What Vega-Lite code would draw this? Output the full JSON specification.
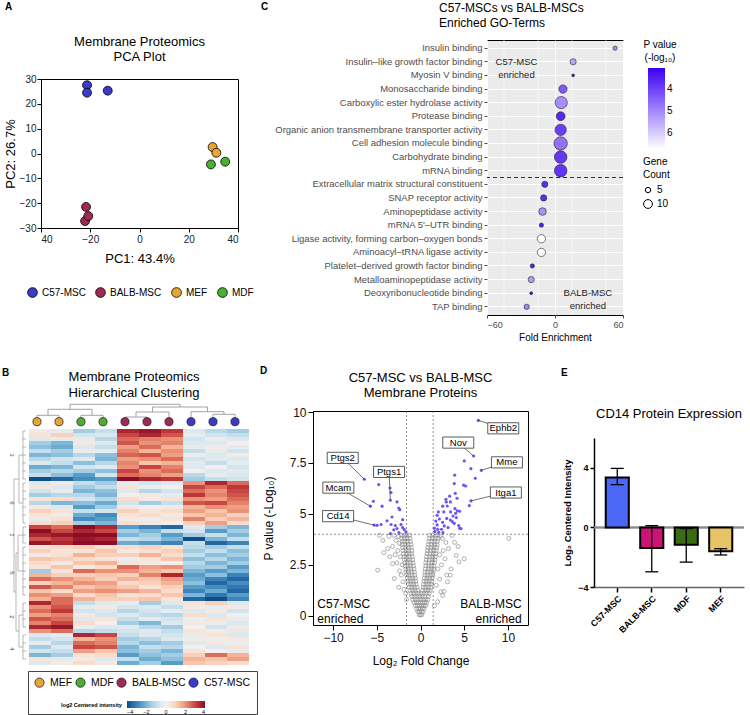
{
"$schema": "https://vega.github.io/schema/vega-lite/v6.json",
"padding": {"left": 2, "top": 0, "right": 0, "bottom": 0},
"background": "white",
"config": {
  "font": "Liberation Sans",
  "view": {"stroke": null},
  "axis": {"grid": false, "domainColor": "black", "tickColor": "black", "labelColor": "#222", "titleColor": "black", "titleFontWeight": "normal", "labelFont": "Liberation Sans", "titleFont": "Liberation Sans"},
  "title": {"font": "Liberation Sans", "fontWeight": "normal", "color": "black"},
  "legend": {"labelFont": "Liberation Sans", "titleFont": "Liberation Sans", "titleFontWeight": "normal", "titleColor": "black", "labelColor": "black"}
},
"spacing": 23,
"resolve": {"scale": {"x": "independent", "y": "independent", "color": "independent", "fill": "independent", "size": "independent"}},
"vconcat": [
{
  "spacing": 6,
  "resolve": {"scale": {"x": "independent", "y": "independent", "color": "independent", "size": "independent"}},
  "hconcat": [
  {
    "spacing": 0,
    "resolve": {"scale": {"x": "independent", "y": "independent", "color": "independent"}},
    "hconcat": [
      {"width": 1, "height": 1, "data": {"values": [{}]}, "mark": {"type": "point", "opacity": 0, "size": 1}, "encoding": {}},
      {
        "spacing": 0,
        "resolve": {"scale": {"x": "independent", "y": "independent", "color": "independent"}},
        "vconcat": [
          {"width": 1, "height": 35, "title": {"text": "A", "anchor": "start", "frame": "group", "fontSize": 10, "fontWeight": "bold", "offset": -12, "dx": -36}, "data": {"values": [{}]}, "mark": {"type": "point", "opacity": 0, "size": 1}, "encoding": {}},
          {
            "width": 197, "height": 149,
            "view": {"stroke": "black", "strokeWidth": 1},
            "title": {"text": ["Membrane Proteomics", "PCA Plot"], "fontSize": 13, "lineHeight": 15, "offset": 10},
            "data": {"values": [
              {"PC1": -21.3, "PC2": 27.5, "group": "C57-MSC"},
              {"PC1": -21.3, "PC2": 24.5, "group": "C57-MSC"},
              {"PC1": -12.9, "PC2": 25.3, "group": "C57-MSC"},
              {"PC1": -21.7, "PC2": -21.5, "group": "BALB-MSC"},
              {"PC1": -22.1, "PC2": -27.2, "group": "BALB-MSC"},
              {"PC1": -20.8, "PC2": -25.2, "group": "BALB-MSC"},
              {"PC1": 29.7, "PC2": 2.6, "group": "MEF"},
              {"PC1": 31.2, "PC2": 0.3, "group": "MEF"},
              {"PC1": 29.0, "PC2": -4.4, "group": "MDF"},
              {"PC1": 34.8, "PC2": -3.3, "group": "MDF"}
            ]},
            "mark": {"type": "point", "filled": true, "size": 80, "stroke": "black", "strokeWidth": 0.8, "opacity": 1},
            "encoding": {
              "x": {"field": "PC1", "type": "quantitative", "scale": {"domain": [-40, 40], "nice": false, "zero": false},
                    "axis": {"values": [-40, -20, 0, 20, 40], "labelExpr": "datum.value == -40 ? '40' : datum.label", "title": "PC1: 43.4%", "titleFontSize": 13, "labelFontSize": 10, "tickSize": 4, "titlePadding": 8, "domain": false}},
              "y": {"field": "PC2", "type": "quantitative", "scale": {"domain": [-30, 30], "nice": false, "zero": false},
                    "axis": {"values": [-30, -20, -10, 0, 10, 20, 30], "title": "PC2: 26.7%", "titleFontSize": 13, "labelFontSize": 10, "tickSize": 4, "labelPadding": 1, "titlePadding": 2, "domain": false}},
              "color": {"field": "group", "type": "nominal",
                        "scale": {"domain": ["C57-MSC", "BALB-MSC", "MEF", "MDF"], "range": ["#3b3bc6", "#9e2a55", "#e6a535", "#4cae33"]},
                        "legend": {"orient": "none", "direction": "horizontal", "legendX": -14, "legendY": 208, "title": null, "labelFontSize": 10, "symbolSize": 95, "symbolType": "circle", "symbolStrokeColor": "black", "symbolStrokeWidth": 0.8, "symbolOpacity": 1, "columnPadding": 8}}
            }
          }
        ]
      }
    ]
  },
  {
    "spacing": 5,
    "resolve": {"scale": {"x": "independent", "y": "independent", "color": "independent", "size": "independent"}},
    "hconcat": [
      {"width": 1, "height": 1, "title": {"text": "C", "anchor": "start", "frame": "group", "fontSize": 10, "fontWeight": "bold", "offset": -12}, "data": {"values": [{}]}, "mark": {"type": "point", "opacity": 0, "size": 1}, "encoding": {}},
      {
        "spacing": 0,
        "resolve": {"scale": {"x": "independent", "y": "independent", "color": "independent", "size": "independent"}},
        "vconcat": [
          {"width": 1, "height": 1, "data": {"values": [{}]}, "mark": {"type": "point", "opacity": 0, "size": 1}, "encoding": {}},
          {
            "width": 136, "height": 275,
            "view": {"fill": "#ebebeb", "stroke": "black", "strokeWidth": 1},
            "title": {"text": ["C57-MSCs vs BALB-MSCs", "Enriched GO-Terms"], "fontSize": 12, "lineHeight": 15, "anchor": "start", "frame": "group", "dx": -48, "offset": 10},
            "layer": [
              {
                "data": {"values": [{"g": -45}, {"g": -15}, {"g": 15}, {"g": 45}]},
                "mark": {"type": "rule", "color": "white", "strokeWidth": 0.5},
                "encoding": {"x": {"field": "g", "type": "quantitative"}}
              },
              {
                "data": {"values": [
                  {"term": "Insulin binding", "fe": 53, "count": 4, "p": 5.1},
                  {"term": "Insulin–like growth factor binding", "fe": 16, "count": 6, "p": 5.45},
                  {"term": "Myosin V binding", "fe": 16, "count": 3, "p": 3.35},
                  {"term": "Monosaccharide binding", "fe": 7, "count": 9, "p": 4.35},
                  {"term": "Carboxylic ester hydrolase activity", "fe": 5.5, "count": 17, "p": 5.1},
                  {"term": "Protease binding", "fe": 5, "count": 10, "p": 3.6},
                  {"term": "Organic anion transmembrane transporter activity", "fe": 5, "count": 15, "p": 3.95},
                  {"term": "Cell adhesion molecule binding", "fe": 5, "count": 20, "p": 4.7},
                  {"term": "Carbohydrate binding", "fe": 5, "count": 18, "p": 3.85},
                  {"term": "mRNA binding", "fe": 5, "count": 18, "p": 3.8},
                  {"term": "Extracellular matrix structural constituent", "fe": -9, "count": 6, "p": 3.7},
                  {"term": "SNAP receptor activity", "fe": -10, "count": 6, "p": 3.7},
                  {"term": "Aminopeptidase activity", "fe": -11, "count": 8, "p": 5.15},
                  {"term": "mRNA 5'–UTR binding", "fe": -12, "count": 4, "p": 3.5},
                  {"term": "Ligase activity, forming carbon–oxygen bonds", "fe": -12, "count": 9, "p": 6.74},
                  {"term": "Aminoacyl–tRNA ligase activity", "fe": -12, "count": 9, "p": 6.74},
                  {"term": "Platelet–derived growth factor binding", "fe": -20, "count": 4, "p": 3.5},
                  {"term": "Metalloaminopeptidase activity", "fe": -21, "count": 6, "p": 5.3},
                  {"term": "Deoxyribonucleotide binding", "fe": -21, "count": 3, "p": 3.15},
                  {"term": "TAP binding", "fe": -25, "count": 5, "p": 5.0}
                ]},
                "mark": {"type": "point", "filled": true, "stroke": "#222", "strokeWidth": 0.6, "opacity": 1},
                "encoding": {
                  "x": {"field": "fe", "type": "quantitative", "scale": {"domain": [-60, 60], "nice": false, "zero": false},
                        "axis": {"values": [-60, -30, 0, 30, 60], "title": "Fold Enrichment", "titleFontSize": 10, "titlePadding": 3, "labelFontSize": 9, "labelColor": "#4d4d4d", "tickColor": "#4d4d4d", "tickSize": 3, "domain": false, "grid": true, "gridColor": "white", "gridWidth": 1}},
                  "y": {"field": "term", "type": "nominal",
                        "scale": {"type": "band", "paddingInner": 0, "paddingOuter": 0.1, "domain": ["Insulin binding", "Insulin–like growth factor binding", "Myosin V binding", "Monosaccharide binding", "Carboxylic ester hydrolase activity", "Protease binding", "Organic anion transmembrane transporter activity", "Cell adhesion molecule binding", "Carbohydrate binding", "mRNA binding", "Extracellular matrix structural constituent", "SNAP receptor activity", "Aminopeptidase activity", "mRNA 5'–UTR binding", "Ligase activity, forming carbon–oxygen bonds", "Aminoacyl–tRNA ligase activity", "Platelet–derived growth factor binding", "Metalloaminopeptidase activity", "Deoxyribonucleotide binding", "TAP binding"]},
                        "axis": {"title": null, "labelFontSize": 9.45, "labelColor": "#4d4d4d", "tickColor": "#4d4d4d", "tickSize": 3, "labelLimit": 400, "domain": false, "grid": true, "gridColor": "white", "gridWidth": 1, "tickBand": "center"}},
                  "color": {"field": "p", "type": "quantitative", "scale": {"domain": [6.74, 3.04], "range": ["#ffffff", "#3a00f5"], "interpolate": "rgb"},
                            "legend": {"title": ["P value", "(-log₁₀)"], "titleFontSize": 10, "titleLineHeight": 13, "labelFontSize": 10, "gradientLength": 81, "gradientThickness": 17, "values": [4, 5, 6], "offset": 20, "titleAnchor": "middle", "gradientStrokeWidth": 0}},
                  "size": {"field": "count", "type": "quantitative", "scale": {"domain": [3, 20], "range": [8, 178], "zero": false},
                           "legend": {"title": ["Gene", "Count"], "titleFontSize": 10, "titleLineHeight": 13, "labelFontSize": 10, "values": [5, 10], "symbolFillColor": "white", "symbolStrokeColor": "black", "symbolStrokeWidth": 1, "symbolOpacity": 1}}
                }
              },
              {
                "data": {"values": [{"t": 0}]},
                "mark": {"type": "rule", "color": "#333", "strokeDash": [4, 3], "strokeWidth": 1.1},
                "encoding": {"y": {"datum": "Extracellular matrix structural constituent", "type": "nominal", "bandPosition": 0}}
              },
              {
                "data": {"values": [
                  {"t": "C57-MSC\nenriched", "fe": -34, "term": "Insulin–like growth factor binding"},
                  {"t": "BALB-MSC\nenriched", "fe": 29, "term": "Deoxyribonucleotide binding"}
                ]},
                "mark": {"type": "text", "fontSize": 9.5, "lineBreak": "\n", "lineHeight": 13, "baseline": "middle", "color": "#222"},
                "encoding": {
                  "x": {"field": "fe", "type": "quantitative"},
                  "y": {"field": "term", "type": "nominal"},
                  "text": {"field": "t"}
                }
              }
            ]
          }
        ]
      }
    ]
  }]
},
{
  "spacing": 2,
  "resolve": {"scale": {"x": "independent", "y": "independent", "color": "independent", "fill": "independent"}},
  "hconcat": [
  {
    "spacing": -5,
    "resolve": {"scale": {"x": "independent", "y": "independent", "color": "independent", "fill": "independent"}},
    "hconcat": [
      {"width": 1, "height": 1, "title": {"text": "B", "anchor": "start", "frame": "group", "fontSize": 10, "fontWeight": "bold", "offset": -12}, "data": {"values": [{}]}, "mark": {"type": "point", "opacity": 0, "size": 1}, "encoding": {}},
      {
        "spacing": 1,
        "resolve": {"scale": {"x": "independent", "y": "independent", "color": "independent", "fill": "independent"}},
        "vconcat": [
          {"width": 1, "height": 4, "data": {"values": [{}]}, "mark": {"type": "point", "opacity": 0, "size": 1}, "encoding": {}},
          {
            "width": 236, "height": 24,
            "title": {"text": ["Membrane Proteomics", "Hierarchical Clustering"], "fontSize": 13, "lineHeight": 16, "offset": 2, "dx": 6},
            "layer": [
              {
                "data": {"values": [
                  {"x": 0.5, "x2": 0.5, "y": 4.3, "y2": 10.7}, {"x": 1.5, "x2": 1.5, "y": 4.3, "y2": 10.7}, {"x": 0.5, "x2": 1.5, "y": 10.7, "y2": 10.7},
                  {"x": 2.5, "x2": 2.5, "y": 4.3, "y2": 10.7}, {"x": 3.5, "x2": 3.5, "y": 4.3, "y2": 10.7}, {"x": 2.5, "x2": 3.5, "y": 10.7, "y2": 10.7},
                  {"x": 1.0, "x2": 1.0, "y": 10.7, "y2": 16.7}, {"x": 3.0, "x2": 3.0, "y": 10.7, "y2": 16.7}, {"x": 1.0, "x2": 3.0, "y": 16.7, "y2": 16.7},
                  {"x": 2.0, "x2": 2.0, "y": 16.7, "y2": 21.7},
                  {"x": 4.5, "x2": 4.5, "y": 4.3, "y2": 9}, {"x": 5.5, "x2": 5.5, "y": 4.3, "y2": 9}, {"x": 4.5, "x2": 5.5, "y": 9, "y2": 9},
                  {"x": 5.0, "x2": 5.0, "y": 9, "y2": 14}, {"x": 6.5, "x2": 6.5, "y": 4.3, "y2": 14}, {"x": 5.0, "x2": 6.5, "y": 14, "y2": 14},
                  {"x": 5.75, "x2": 5.75, "y": 14, "y2": 19},
                  {"x": 8.5, "x2": 8.5, "y": 4.3, "y2": 11.7}, {"x": 9.5, "x2": 9.5, "y": 4.3, "y2": 11.7}, {"x": 8.5, "x2": 9.5, "y": 11.7, "y2": 11.7},
                  {"x": 9.0, "x2": 9.0, "y": 11.7, "y2": 14.3}, {"x": 7.5, "x2": 7.5, "y": 4.3, "y2": 14.3}, {"x": 7.5, "x2": 9.0, "y": 14.3, "y2": 14.3},
                  {"x": 8.25, "x2": 8.25, "y": 14.3, "y2": 19}, {"x": 5.75, "x2": 8.25, "y": 19, "y2": 19},
                  {"x": 7.0, "x2": 7.0, "y": 19, "y2": 21.7}, {"x": 2.0, "x2": 7.0, "y": 21.7, "y2": 21.7}
                ]},
                "mark": {"type": "rule", "color": "#999", "strokeWidth": 0.9},
                "encoding": {
                  "x": {"field": "x", "type": "quantitative", "scale": {"domain": [-0.7273, 10], "nice": false, "zero": false}, "axis": null},
                  "x2": {"field": "x2"},
                  "y": {"field": "y", "type": "quantitative", "scale": {"domain": [0, 24], "nice": false, "zero": false}, "axis": null},
                  "y2": {"field": "y2"}
                }
              },
              {
                "data": {"values": [
                  {"x": 0.5, "grp": "MEF"}, {"x": 1.5, "grp": "MEF"}, {"x": 2.5, "grp": "MDF"}, {"x": 3.5, "grp": "MDF"},
                  {"x": 4.5, "grp": "BALB-MSC"}, {"x": 5.5, "grp": "BALB-MSC"}, {"x": 6.5, "grp": "BALB-MSC"},
                  {"x": 7.5, "grp": "C57-MSC"}, {"x": 8.5, "grp": "C57-MSC"}, {"x": 9.5, "grp": "C57-MSC"}
                ]},
                "mark": {"type": "point", "filled": true, "size": 66, "stroke": "#222", "strokeWidth": 0.8, "opacity": 1},
                "encoding": {
                  "x": {"field": "x", "type": "quantitative"},
                  "y": {"datum": 4.3},
                  "fill": {"field": "grp", "type": "nominal", "scale": {"domain": ["MEF", "MDF", "BALB-MSC", "C57-MSC"], "range": ["#e6a535", "#4cae33", "#9e2a55", "#3b3bc6"]}, "legend": null}
                }
              }
            ]
          },
          {
            "spacing": 0,
            "resolve": {"scale": {"x": "independent", "y": "independent", "color": "independent", "fill": "independent"}},
            "hconcat": [
            {
              "width": 16, "height": 236,
              "layer": [
                {
                  "data": {"values": [
                    {"x": 13, "x2": 16, "y": 0.5, "y2": 0.5}, {"x": 13, "x2": 16, "y": 2.5, "y2": 2.5}, {"x": 13, "x2": 16, "y": 4.5, "y2": 4.5}, {"x": 13, "x2": 16, "y": 6.5, "y2": 6.5}, {"x": 13, "x2": 16, "y": 8.5, "y2": 8.5}, {"x": 13, "x2": 16, "y": 10.5, "y2": 10.5}, {"x": 13, "x2": 16, "y": 12.5, "y2": 12.5},
                    {"x": 13, "x2": 16, "y": 13.5, "y2": 13.5}, {"x": 13, "x2": 16, "y": 15.5, "y2": 15.5}, {"x": 13, "x2": 16, "y": 17.5, "y2": 17.5}, {"x": 13, "x2": 16, "y": 19.5, "y2": 19.5}, {"x": 13, "x2": 16, "y": 21.5, "y2": 21.5}, {"x": 13, "x2": 16, "y": 23.5, "y2": 23.5},
                    {"x": 13, "x2": 16, "y": 24.5, "y2": 24.5}, {"x": 13, "x2": 16, "y": 26.5, "y2": 26.5}, {"x": 13, "x2": 16, "y": 28.5, "y2": 28.5},
                    {"x": 13, "x2": 16, "y": 29.5, "y2": 29.5}, {"x": 13, "x2": 16, "y": 31.5, "y2": 31.5}, {"x": 13, "x2": 16, "y": 33.5, "y2": 33.5}, {"x": 13, "x2": 16, "y": 35.5, "y2": 35.5}, {"x": 13, "x2": 16, "y": 37.5, "y2": 37.5}, {"x": 13, "x2": 16, "y": 39.5, "y2": 39.5}, {"x": 13, "x2": 16, "y": 41.5, "y2": 41.5},
                    {"x": 13, "x2": 16, "y": 43.5, "y2": 43.5}, {"x": 13, "x2": 16, "y": 45.5, "y2": 45.5}, {"x": 13, "x2": 16, "y": 47.5, "y2": 47.5}, {"x": 13, "x2": 16, "y": 49.5, "y2": 49.5},
                    {"x": 13, "x2": 16, "y": 51.5, "y2": 51.5}, {"x": 13, "x2": 16, "y": 53.5, "y2": 53.5}, {"x": 13, "x2": 16, "y": 55.5, "y2": 55.5}, {"x": 13, "x2": 16, "y": 57.5, "y2": 57.5},
                    {"x": 13, "x2": 13, "y": 0.5, "y2": 12.5}, {"x": 13, "x2": 13, "y": 13.5, "y2": 23.5}, {"x": 13, "x2": 13, "y": 24.5, "y2": 28.5}, {"x": 13, "x2": 13, "y": 29.5, "y2": 41.5}, {"x": 13, "x2": 13, "y": 43.5, "y2": 49.5}, {"x": 13, "x2": 13, "y": 51.5, "y2": 57.5},
                    {"x": 9, "x2": 13, "y": 6.5, "y2": 6.5}, {"x": 9, "x2": 13, "y": 18.5, "y2": 18.5}, {"x": 9, "x2": 9, "y": 6.5, "y2": 18.5}, {"x": 4, "x2": 9, "y": 12.5, "y2": 12.5},
                    {"x": 8, "x2": 13, "y": 26.5, "y2": 26.5}, {"x": 8, "x2": 13, "y": 35.5, "y2": 35.5}, {"x": 8, "x2": 8, "y": 26.5, "y2": 35.5}, {"x": 6, "x2": 8, "y": 31, "y2": 31},
                    {"x": 9, "x2": 13, "y": 46.5, "y2": 46.5}, {"x": 9, "x2": 13, "y": 54.5, "y2": 54.5}, {"x": 9, "x2": 9, "y": 46.5, "y2": 54.5}, {"x": 6, "x2": 9, "y": 50.5, "y2": 50.5},
                    {"x": 6, "x2": 6, "y": 31, "y2": 50.5}, {"x": 4, "x2": 6, "y": 40.75, "y2": 40.75}, {"x": 4, "x2": 4, "y": 12.5, "y2": 40.75}, {"x": 3, "x2": 4, "y": 26.6, "y2": 26.6}
                  ]},
                  "mark": {"type": "rule", "color": "#999", "strokeWidth": 0.7},
                  "encoding": {
                    "x": {"field": "x", "type": "quantitative", "scale": {"domain": [0, 16], "nice": false, "zero": false}, "axis": null},
                    "x2": {"field": "x2"},
                    "y": {"field": "y", "type": "quantitative", "scale": {"domain": [0, 59], "nice": false, "zero": false, "reverse": true}, "axis": null},
                    "y2": {"field": "y2"}
                  }
                },
                {
                  "data": {"values": [
                    {"x": 1.5, "y": 6.5, "k": "3"}, {"x": 1.5, "y": 18.5, "k": "6"}, {"x": 1.5, "y": 26.5, "k": "1"},
                    {"x": 1.5, "y": 36, "k": "5"}, {"x": 1.5, "y": 47, "k": "2"}, {"x": 1.5, "y": 55, "k": "4"}
                  ]},
                  "mark": {"type": "text", "fontSize": 6, "angle": 90, "color": "#444", "baseline": "middle", "align": "center"},
                  "encoding": {
                    "x": {"field": "x", "type": "quantitative"},
                    "y": {"field": "y", "type": "quantitative"},
                    "text": {"field": "k"}
                  }
                }
              ]
            },
            {
              "width": 220, "height": 236,
              "layer": [
                {
                  "data": {"values": [
{"r":0,"c":0,"v":0.2},{"r":0,"c":1,"v":-0.3},{"r":0,"c":2,"v":-1.5},{"r":0,"c":3,"v":-1.0},{"r":0,"c":4,"v":3.5},{"r":0,"c":5,"v":3.8},{"r":0,"c":6,"v":3.2},{"r":0,"c":7,"v":-0.5},{"r":0,"c":8,"v":-1.2},{"r":0,"c":9,"v":-1.5},
{"r":1,"c":0,"v":0.5},{"r":1,"c":1,"v":1.0},{"r":1,"c":2,"v":-0.8},{"r":1,"c":3,"v":-0.6},{"r":1,"c":4,"v":3.0},{"r":1,"c":5,"v":3.5},{"r":1,"c":6,"v":2.8},{"r":1,"c":7,"v":-0.3},{"r":1,"c":8,"v":-0.8},{"r":1,"c":9,"v":-1.0},
{"r":2,"c":0,"v":-0.5},{"r":2,"c":1,"v":-0.3},{"r":2,"c":2,"v":-0.3},{"r":2,"c":3,"v":-1.2},{"r":2,"c":4,"v":2.5},{"r":2,"c":5,"v":2.2},{"r":2,"c":6,"v":2.0},{"r":2,"c":7,"v":-0.8},{"r":2,"c":8,"v":-0.2},{"r":2,"c":9,"v":-0.5},
{"r":3,"c":0,"v":-1.5},{"r":3,"c":1,"v":-2.0},{"r":3,"c":2,"v":0.3},{"r":3,"c":3,"v":-0.5},{"r":3,"c":4,"v":2.8},{"r":3,"c":5,"v":2.0},{"r":3,"c":6,"v":2.2},{"r":3,"c":7,"v":-0.5},{"r":3,"c":8,"v":-0.5},{"r":3,"c":9,"v":0.0},
{"r":4,"c":0,"v":-1.8},{"r":4,"c":1,"v":-2.2},{"r":4,"c":2,"v":-0.5},{"r":4,"c":3,"v":-1.0},{"r":4,"c":4,"v":1.8},{"r":4,"c":5,"v":2.5},{"r":4,"c":6,"v":1.5},{"r":4,"c":7,"v":-0.3},{"r":4,"c":8,"v":0.2},{"r":4,"c":9,"v":-0.3},
{"r":5,"c":0,"v":-1.0},{"r":5,"c":1,"v":-1.5},{"r":5,"c":2,"v":-0.2},{"r":5,"c":3,"v":-0.3},{"r":5,"c":4,"v":2.2},{"r":5,"c":5,"v":1.5},{"r":5,"c":6,"v":2.0},{"r":5,"c":7,"v":-1.0},{"r":5,"c":8,"v":-0.3},{"r":5,"c":9,"v":-0.8},
{"r":6,"c":0,"v":-2.0},{"r":6,"c":1,"v":-1.8},{"r":6,"c":2,"v":-1.2},{"r":6,"c":3,"v":-1.8},{"r":6,"c":4,"v":2.6},{"r":6,"c":5,"v":2.8},{"r":6,"c":6,"v":1.8},{"r":6,"c":7,"v":-0.2},{"r":6,"c":8,"v":-0.6},{"r":6,"c":9,"v":0.2},
{"r":7,"c":0,"v":-1.2},{"r":7,"c":1,"v":-0.8},{"r":7,"c":2,"v":-0.5},{"r":7,"c":3,"v":-2.0},{"r":7,"c":4,"v":1.8},{"r":7,"c":5,"v":2.0},{"r":7,"c":6,"v":2.5},{"r":7,"c":7,"v":-0.8},{"r":7,"c":8,"v":-0.4},{"r":7,"c":9,"v":-0.6},
{"r":8,"c":0,"v":-0.5},{"r":8,"c":1,"v":-1.0},{"r":8,"c":2,"v":-1.8},{"r":8,"c":3,"v":-1.2},{"r":8,"c":4,"v":2.2},{"r":8,"c":5,"v":1.2},{"r":8,"c":6,"v":1.5},{"r":8,"c":7,"v":-0.4},{"r":8,"c":8,"v":-1.0},{"r":8,"c":9,"v":-0.3},
{"r":9,"c":0,"v":-2.2},{"r":9,"c":1,"v":-2.0},{"r":9,"c":2,"v":-0.8},{"r":9,"c":3,"v":-0.5},{"r":9,"c":4,"v":2.0},{"r":9,"c":5,"v":3.0},{"r":9,"c":6,"v":2.2},{"r":9,"c":7,"v":-0.5},{"r":9,"c":8,"v":0.0},{"r":9,"c":9,"v":-0.8},
{"r":10,"c":0,"v":-1.5},{"r":10,"c":1,"v":-1.2},{"r":10,"c":2,"v":-1.5},{"r":10,"c":3,"v":-1.8},{"r":10,"c":4,"v":3.0},{"r":10,"c":5,"v":2.0},{"r":10,"c":6,"v":2.5},{"r":10,"c":7,"v":0.0},{"r":10,"c":8,"v":-0.5},{"r":10,"c":9,"v":-0.4},
{"r":11,"c":0,"v":-1.0},{"r":11,"c":1,"v":-1.8},{"r":11,"c":2,"v":-2.5},{"r":11,"c":3,"v":-0.8},{"r":11,"c":4,"v":2.5},{"r":11,"c":5,"v":2.2},{"r":11,"c":6,"v":1.8},{"r":11,"c":7,"v":-1.2},{"r":11,"c":8,"v":-0.3},{"r":11,"c":9,"v":-0.6},
{"r":12,"c":0,"v":-4.0},{"r":12,"c":1,"v":-3.5},{"r":12,"c":2,"v":-2.8},{"r":12,"c":3,"v":-2.5},{"r":12,"c":4,"v":4.0},{"r":12,"c":5,"v":3.5},{"r":12,"c":6,"v":3.2},{"r":12,"c":7,"v":-1.5},{"r":12,"c":8,"v":-1.0},{"r":12,"c":9,"v":-0.8},
{"r":13,"c":0,"v":-0.5},{"r":13,"c":1,"v":0.2},{"r":13,"c":2,"v":-1.0},{"r":13,"c":3,"v":-1.5},{"r":13,"c":4,"v":-0.3},{"r":13,"c":5,"v":-0.8},{"r":13,"c":6,"v":-0.5},{"r":13,"c":7,"v":2.0},{"r":13,"c":8,"v":3.5},{"r":13,"c":9,"v":2.5},
{"r":14,"c":0,"v":0.3},{"r":14,"c":1,"v":-0.5},{"r":14,"c":2,"v":-1.5},{"r":14,"c":3,"v":-1.0},{"r":14,"c":4,"v":0.5},{"r":14,"c":5,"v":-0.2},{"r":14,"c":6,"v":0.0},{"r":14,"c":7,"v":3.0},{"r":14,"c":8,"v":2.5},{"r":14,"c":9,"v":3.2},
{"r":15,"c":0,"v":-0.8},{"r":15,"c":1,"v":-0.3},{"r":15,"c":2,"v":-2.0},{"r":15,"c":3,"v":-1.8},{"r":15,"c":4,"v":-0.5},{"r":15,"c":5,"v":-1.2},{"r":15,"c":6,"v":-0.8},{"r":15,"c":7,"v":2.5},{"r":15,"c":8,"v":2.0},{"r":15,"c":9,"v":3.0},
{"r":16,"c":0,"v":-1.5},{"r":16,"c":1,"v":-1.2},{"r":16,"c":2,"v":-1.2},{"r":16,"c":3,"v":-2.0},{"r":16,"c":4,"v":0.0},{"r":16,"c":5,"v":0.3},{"r":16,"c":6,"v":-0.3},{"r":16,"c":7,"v":3.2},{"r":16,"c":8,"v":2.2},{"r":16,"c":9,"v":2.8},
{"r":17,"c":0,"v":0.5},{"r":17,"c":1,"v":0.8},{"r":17,"c":2,"v":-0.8},{"r":17,"c":3,"v":-1.2},{"r":17,"c":4,"v":0.8},{"r":17,"c":5,"v":0.2},{"r":17,"c":6,"v":0.5},{"r":17,"c":7,"v":2.0},{"r":17,"c":8,"v":1.8},{"r":17,"c":9,"v":2.5},
{"r":18,"c":0,"v":-1.2},{"r":18,"c":1,"v":-2.0},{"r":18,"c":2,"v":-1.8},{"r":18,"c":3,"v":-2.2},{"r":18,"c":4,"v":-0.8},{"r":18,"c":5,"v":-1.5},{"r":18,"c":6,"v":-1.0},{"r":18,"c":7,"v":2.8},{"r":18,"c":8,"v":3.0},{"r":18,"c":9,"v":2.2},
{"r":19,"c":0,"v":0.2},{"r":19,"c":1,"v":-0.5},{"r":19,"c":2,"v":-2.5},{"r":19,"c":3,"v":-1.5},{"r":19,"c":4,"v":0.3},{"r":19,"c":5,"v":0.0},{"r":19,"c":6,"v":0.2},{"r":19,"c":7,"v":1.5},{"r":19,"c":8,"v":2.0},{"r":19,"c":9,"v":1.8},
{"r":20,"c":0,"v":1.0},{"r":20,"c":1,"v":0.5},{"r":20,"c":2,"v":-1.0},{"r":20,"c":3,"v":-0.8},{"r":20,"c":4,"v":1.0},{"r":20,"c":5,"v":0.5},{"r":20,"c":6,"v":0.8},{"r":20,"c":7,"v":1.8},{"r":20,"c":8,"v":1.2},{"r":20,"c":9,"v":2.0},
{"r":21,"c":0,"v":0.5},{"r":21,"c":1,"v":0.2},{"r":21,"c":2,"v":-2.2},{"r":21,"c":3,"v":-2.8},{"r":21,"c":4,"v":0.5},{"r":21,"c":5,"v":0.8},{"r":21,"c":6,"v":0.3},{"r":21,"c":7,"v":1.2},{"r":21,"c":8,"v":1.5},{"r":21,"c":9,"v":1.0},
{"r":22,"c":0,"v":-0.3},{"r":22,"c":1,"v":0.6},{"r":22,"c":2,"v":-2.8},{"r":22,"c":3,"v":-2.5},{"r":22,"c":4,"v":0.2},{"r":22,"c":5,"v":-0.2},{"r":22,"c":6,"v":0.5},{"r":22,"c":7,"v":2.2},{"r":22,"c":8,"v":1.0},{"r":22,"c":9,"v":1.5},
{"r":23,"c":0,"v":0.8},{"r":23,"c":1,"v":1.0},{"r":23,"c":2,"v":-1.5},{"r":23,"c":3,"v":-2.0},{"r":23,"c":4,"v":0.6},{"r":23,"c":5,"v":0.3},{"r":23,"c":6,"v":0.0},{"r":23,"c":7,"v":1.0},{"r":23,"c":8,"v":1.8},{"r":23,"c":9,"v":0.8},
{"r":24,"c":0,"v":3.0},{"r":24,"c":1,"v":2.5},{"r":24,"c":2,"v":4.0},{"r":24,"c":3,"v":3.5},{"r":24,"c":4,"v":-2.5},{"r":24,"c":5,"v":-3.0},{"r":24,"c":6,"v":-3.5},{"r":24,"c":7,"v":-0.5},{"r":24,"c":8,"v":-1.5},{"r":24,"c":9,"v":-2.0},
{"r":25,"c":0,"v":4.0},{"r":25,"c":1,"v":3.0},{"r":25,"c":2,"v":3.5},{"r":25,"c":3,"v":3.0},{"r":25,"c":4,"v":-1.5},{"r":25,"c":5,"v":-2.0},{"r":25,"c":6,"v":-1.0},{"r":25,"c":7,"v":-0.8},{"r":25,"c":8,"v":-2.5},{"r":25,"c":9,"v":-1.5},
{"r":26,"c":0,"v":3.5},{"r":26,"c":1,"v":3.8},{"r":26,"c":2,"v":4.0},{"r":26,"c":3,"v":4.0},{"r":26,"c":4,"v":-2.0},{"r":26,"c":5,"v":-1.5},{"r":26,"c":6,"v":-2.5},{"r":26,"c":7,"v":-1.5},{"r":26,"c":8,"v":-1.0},{"r":26,"c":9,"v":-2.0},
{"r":27,"c":0,"v":2.8},{"r":27,"c":1,"v":3.2},{"r":27,"c":2,"v":3.8},{"r":27,"c":3,"v":3.5},{"r":27,"c":4,"v":-1.0},{"r":27,"c":5,"v":-1.2},{"r":27,"c":6,"v":-2.0},{"r":27,"c":7,"v":-4.0},{"r":27,"c":8,"v":-2.0},{"r":27,"c":9,"v":-1.0},
{"r":28,"c":0,"v":3.8},{"r":28,"c":1,"v":3.5},{"r":28,"c":2,"v":4.0},{"r":28,"c":3,"v":4.0},{"r":28,"c":4,"v":-2.2},{"r":28,"c":5,"v":-2.5},{"r":28,"c":6,"v":-3.0},{"r":28,"c":7,"v":-1.0},{"r":28,"c":8,"v":-3.5},{"r":28,"c":9,"v":-3.0},
{"r":29,"c":0,"v":0.5},{"r":29,"c":1,"v":0.8},{"r":29,"c":2,"v":1.0},{"r":29,"c":3,"v":0.6},{"r":29,"c":4,"v":0.8},{"r":29,"c":5,"v":1.0},{"r":29,"c":6,"v":0.5},{"r":29,"c":7,"v":-1.2},{"r":29,"c":8,"v":-1.5},{"r":29,"c":9,"v":-1.0},
{"r":30,"c":0,"v":1.0},{"r":30,"c":1,"v":0.5},{"r":30,"c":2,"v":0.5},{"r":30,"c":3,"v":1.2},{"r":30,"c":4,"v":0.3},{"r":30,"c":5,"v":0.6},{"r":30,"c":6,"v":1.0},{"r":30,"c":7,"v":-1.5},{"r":30,"c":8,"v":-1.0},{"r":30,"c":9,"v":-1.8},
{"r":31,"c":0,"v":0.2},{"r":31,"c":1,"v":0.6},{"r":31,"c":2,"v":1.5},{"r":31,"c":3,"v":1.0},{"r":31,"c":4,"v":1.0},{"r":31,"c":5,"v":1.5},{"r":31,"c":6,"v":0.8},{"r":31,"c":7,"v":-1.0},{"r":31,"c":8,"v":-1.8},{"r":31,"c":9,"v":-1.5},
{"r":32,"c":0,"v":1.2},{"r":32,"c":1,"v":1.0},{"r":32,"c":2,"v":0.8},{"r":32,"c":3,"v":0.5},{"r":32,"c":4,"v":-0.2},{"r":32,"c":5,"v":0.5},{"r":32,"c":6,"v":1.2},{"r":32,"c":7,"v":-1.8},{"r":32,"c":8,"v":-1.2},{"r":32,"c":9,"v":-2.0},
{"r":33,"c":0,"v":0.8},{"r":33,"c":1,"v":0.3},{"r":33,"c":2,"v":1.2},{"r":33,"c":3,"v":1.5},{"r":33,"c":4,"v":0.5},{"r":33,"c":5,"v":0.2},{"r":33,"c":6,"v":0.0},{"r":33,"c":7,"v":-1.2},{"r":33,"c":8,"v":-2.0},{"r":33,"c":9,"v":-1.5},
{"r":34,"c":0,"v":0.5},{"r":34,"c":1,"v":1.2},{"r":34,"c":2,"v":0.3},{"r":34,"c":3,"v":0.8},{"r":34,"c":4,"v":2.5},{"r":34,"c":5,"v":1.8},{"r":34,"c":6,"v":2.0},{"r":34,"c":7,"v":-1.5},{"r":34,"c":8,"v":-1.5},{"r":34,"c":9,"v":-2.5},
{"r":35,"c":0,"v":-1.5},{"r":35,"c":1,"v":0.5},{"r":35,"c":2,"v":2.5},{"r":35,"c":3,"v":2.0},{"r":35,"c":4,"v":2.0},{"r":35,"c":5,"v":1.5},{"r":35,"c":6,"v":1.2},{"r":35,"c":7,"v":-2.0},{"r":35,"c":8,"v":-2.5},{"r":35,"c":9,"v":-2.0},
{"r":36,"c":0,"v":1.5},{"r":36,"c":1,"v":1.0},{"r":36,"c":2,"v":1.0},{"r":36,"c":3,"v":1.2},{"r":36,"c":4,"v":1.0},{"r":36,"c":5,"v":2.2},{"r":36,"c":6,"v":3.5},{"r":36,"c":7,"v":-2.5},{"r":36,"c":8,"v":-1.8},{"r":36,"c":9,"v":-3.0},
{"r":37,"c":0,"v":2.5},{"r":37,"c":1,"v":2.0},{"r":37,"c":2,"v":1.5},{"r":37,"c":3,"v":1.0},{"r":37,"c":4,"v":1.5},{"r":37,"c":5,"v":1.2},{"r":37,"c":6,"v":1.8},{"r":37,"c":7,"v":-2.2},{"r":37,"c":8,"v":-3.0},{"r":37,"c":9,"v":-3.5},
{"r":38,"c":0,"v":1.0},{"r":38,"c":1,"v":1.5},{"r":38,"c":2,"v":2.0},{"r":38,"c":3,"v":1.8},{"r":38,"c":4,"v":0.8},{"r":38,"c":5,"v":1.0},{"r":38,"c":6,"v":1.5},{"r":38,"c":7,"v":-1.8},{"r":38,"c":8,"v":-3.5},{"r":38,"c":9,"v":-2.8},
{"r":39,"c":0,"v":2.8},{"r":39,"c":1,"v":2.2},{"r":39,"c":2,"v":1.2},{"r":39,"c":3,"v":1.5},{"r":39,"c":4,"v":1.2},{"r":39,"c":5,"v":0.5},{"r":39,"c":6,"v":1.0},{"r":39,"c":7,"v":-2.5},{"r":39,"c":8,"v":-2.8},{"r":39,"c":9,"v":-3.2},
{"r":40,"c":0,"v":1.2},{"r":40,"c":1,"v":0.8},{"r":40,"c":2,"v":1.8},{"r":40,"c":3,"v":2.0},{"r":40,"c":4,"v":1.8},{"r":40,"c":5,"v":1.5},{"r":40,"c":6,"v":0.8},{"r":40,"c":7,"v":-3.0},{"r":40,"c":8,"v":-2.2},{"r":40,"c":9,"v":-3.5},
{"r":41,"c":0,"v":2.0},{"r":41,"c":1,"v":1.8},{"r":41,"c":2,"v":0.8},{"r":41,"c":3,"v":1.2},{"r":41,"c":4,"v":0.5},{"r":41,"c":5,"v":0.8},{"r":41,"c":6,"v":1.2},{"r":41,"c":7,"v":-2.0},{"r":41,"c":8,"v":-3.2},{"r":41,"c":9,"v":-2.5},
{"r":42,"c":0,"v":1.5},{"r":42,"c":1,"v":2.5},{"r":42,"c":2,"v":1.5},{"r":42,"c":3,"v":1.0},{"r":42,"c":4,"v":1.0},{"r":42,"c":5,"v":1.2},{"r":42,"c":6,"v":0.5},{"r":42,"c":7,"v":-3.5},{"r":42,"c":8,"v":-4.0},{"r":42,"c":9,"v":-3.0},
{"r":43,"c":0,"v":3.5},{"r":43,"c":1,"v":2.5},{"r":43,"c":2,"v":-1.0},{"r":43,"c":3,"v":-0.5},{"r":43,"c":4,"v":-0.3},{"r":43,"c":5,"v":-1.5},{"r":43,"c":6,"v":-0.5},{"r":43,"c":7,"v":0.5},{"r":43,"c":8,"v":1.0},{"r":43,"c":9,"v":-0.5},
{"r":44,"c":0,"v":2.0},{"r":44,"c":1,"v":2.8},{"r":44,"c":2,"v":-0.3},{"r":44,"c":3,"v":0.2},{"r":44,"c":4,"v":-0.8},{"r":44,"c":5,"v":-0.5},{"r":44,"c":6,"v":-1.0},{"r":44,"c":7,"v":0.2},{"r":44,"c":8,"v":-0.3},{"r":44,"c":9,"v":0.3},
{"r":45,"c":0,"v":2.5},{"r":45,"c":1,"v":3.2},{"r":45,"c":2,"v":-0.8},{"r":45,"c":3,"v":-0.5},{"r":45,"c":4,"v":-1.2},{"r":45,"c":5,"v":-0.8},{"r":45,"c":6,"v":-0.3},{"r":45,"c":7,"v":-0.5},{"r":45,"c":8,"v":0.3},{"r":45,"c":9,"v":-0.8},
{"r":46,"c":0,"v":1.8},{"r":46,"c":1,"v":2.2},{"r":46,"c":2,"v":0.3},{"r":46,"c":3,"v":-0.8},{"r":46,"c":4,"v":-0.5},{"r":46,"c":5,"v":-1.0},{"r":46,"c":6,"v":-1.2},{"r":46,"c":7,"v":0.8},{"r":46,"c":8,"v":-0.5},{"r":46,"c":9,"v":0.0},
{"r":47,"c":0,"v":2.8},{"r":47,"c":1,"v":2.5},{"r":47,"c":2,"v":-0.5},{"r":47,"c":3,"v":0.5},{"r":47,"c":4,"v":-1.0},{"r":47,"c":5,"v":-0.3},{"r":47,"c":6,"v":-0.8},{"r":47,"c":7,"v":-0.2},{"r":47,"c":8,"v":0.5},{"r":47,"c":9,"v":-0.3},
{"r":48,"c":0,"v":2.2},{"r":48,"c":1,"v":3.0},{"r":48,"c":2,"v":0.8},{"r":48,"c":3,"v":0.0},{"r":48,"c":4,"v":-1.5},{"r":48,"c":5,"v":-2.0},{"r":48,"c":6,"v":-0.5},{"r":48,"c":7,"v":0.3},{"r":48,"c":8,"v":-0.2},{"r":48,"c":9,"v":-0.6},
{"r":49,"c":0,"v":3.5},{"r":49,"c":1,"v":3.8},{"r":49,"c":2,"v":-0.2},{"r":49,"c":3,"v":-0.5},{"r":49,"c":4,"v":-0.5},{"r":49,"c":5,"v":-1.2},{"r":49,"c":6,"v":-1.5},{"r":49,"c":7,"v":0.0},{"r":49,"c":8,"v":-0.8},{"r":49,"c":9,"v":0.2},
{"r":50,"c":0,"v":2.0},{"r":50,"c":1,"v":2.5},{"r":50,"c":2,"v":-1.2},{"r":50,"c":3,"v":-1.0},{"r":50,"c":4,"v":-0.8},{"r":50,"c":5,"v":-0.5},{"r":50,"c":6,"v":-1.0},{"r":50,"c":7,"v":0.5},{"r":50,"c":8,"v":0.2},{"r":50,"c":9,"v":-0.4},
{"r":51,"c":0,"v":-0.5},{"r":51,"c":1,"v":-0.3},{"r":51,"c":2,"v":3.5},{"r":51,"c":3,"v":3.0},{"r":51,"c":4,"v":-1.0},{"r":51,"c":5,"v":-0.5},{"r":51,"c":6,"v":-0.8},{"r":51,"c":7,"v":-0.3},{"r":51,"c":8,"v":0.5},{"r":51,"c":9,"v":-0.5},
{"r":52,"c":0,"v":-1.0},{"r":52,"c":1,"v":-0.8},{"r":52,"c":2,"v":1.5},{"r":52,"c":3,"v":2.0},{"r":52,"c":4,"v":-1.5},{"r":52,"c":5,"v":-1.2},{"r":52,"c":6,"v":-0.5},{"r":52,"c":7,"v":0.2},{"r":52,"c":8,"v":-0.2},{"r":52,"c":9,"v":0.3},
{"r":53,"c":0,"v":-0.3},{"r":53,"c":1,"v":-1.2},{"r":53,"c":2,"v":2.5},{"r":53,"c":3,"v":2.2},{"r":53,"c":4,"v":-1.2},{"r":53,"c":5,"v":-1.8},{"r":53,"c":6,"v":-1.5},{"r":53,"c":7,"v":-0.5},{"r":53,"c":8,"v":0.3},{"r":53,"c":9,"v":-0.2},
{"r":54,"c":0,"v":-1.5},{"r":54,"c":1,"v":-0.5},{"r":54,"c":2,"v":3.0},{"r":54,"c":3,"v":2.8},{"r":54,"c":4,"v":-2.0},{"r":54,"c":5,"v":-1.0},{"r":54,"c":6,"v":-1.2},{"r":54,"c":7,"v":0.0},{"r":54,"c":8,"v":-0.5},{"r":54,"c":9,"v":0.5},
{"r":55,"c":0,"v":-0.8},{"r":55,"c":1,"v":-1.0},{"r":55,"c":2,"v":1.8},{"r":55,"c":3,"v":1.2},{"r":55,"c":4,"v":-1.8},{"r":55,"c":5,"v":-1.5},{"r":55,"c":6,"v":-2.0},{"r":55,"c":7,"v":0.5},{"r":55,"c":8,"v":0.0},{"r":55,"c":9,"v":-0.3},
{"r":56,"c":0,"v":-2.0},{"r":56,"c":1,"v":-1.5},{"r":56,"c":2,"v":0.5},{"r":56,"c":3,"v":0.8},{"r":56,"c":4,"v":-2.5},{"r":56,"c":5,"v":-1.8},{"r":56,"c":6,"v":-1.5},{"r":56,"c":7,"v":1.0},{"r":56,"c":8,"v":2.5},{"r":56,"c":9,"v":1.5},
{"r":57,"c":0,"v":0.5},{"r":57,"c":1,"v":-0.3},{"r":57,"c":2,"v":0.2},{"r":57,"c":3,"v":-0.5},{"r":57,"c":4,"v":-1.0},{"r":57,"c":5,"v":-2.2},{"r":57,"c":6,"v":-1.8},{"r":57,"c":7,"v":1.5},{"r":57,"c":8,"v":1.2},{"r":57,"c":9,"v":1.8},
{"r":58,"c":0,"v":-0.5},{"r":58,"c":1,"v":0.2},{"r":58,"c":2,"v":0.8},{"r":58,"c":3,"v":0.3},{"r":58,"c":4,"v":-2.2},{"r":58,"c":5,"v":-1.5},{"r":58,"c":6,"v":-2.5},{"r":58,"c":7,"v":1.2},{"r":58,"c":8,"v":1.0},{"r":58,"c":9,"v":0.8}
                  ]},
                  "mark": {"type": "rect", "strokeWidth": 0},
                  "encoding": {
                    "x": {"field": "c", "type": "ordinal", "scale": {"paddingInner": 0, "paddingOuter": 0}, "axis": null},
                    "y": {"field": "r", "type": "ordinal", "scale": {"paddingInner": 0, "paddingOuter": 0}, "axis": null},
                    "color": {"field": "v", "type": "quantitative", "scale": {"scheme": "redblue", "reverse": true, "domain": [-4, 4]},
                              "legend": {"orient": "none", "legendX": 32, "legendY": 272, "direction": "horizontal", "title": "log2 Centered intensity", "titleOrient": "left", "titleFontSize": 5.5, "titleFontWeight": "bold", "gradientLength": 78, "gradientThickness": 7, "labelFontSize": 5.5, "values": [-4, -2, 0, 2, 4], "gradientStrokeWidth": 0}}
                  }
                },
                {
                  "data": {"values": [{"grp": "MEF"}, {"grp": "MDF"}, {"grp": "BALB-MSC"}, {"grp": "C57-MSC"}]},
                  "mark": {"type": "point", "filled": true, "opacity": 0},
                  "encoding": {
                    "fill": {"field": "grp", "type": "nominal", "scale": {"domain": ["MEF", "MDF", "BALB-MSC", "C57-MSC"], "range": ["#e6a535", "#4cae33", "#9e2a55", "#3b3bc6"]},
                             "legend": {"orient": "none", "legendX": -1, "legendY": 242, "direction": "horizontal", "title": [" ", " "], "titleOrient": "bottom", "titleFontSize": 8, "titleLineHeight": 9, "titlePadding": 2, "strokeColor": "#444", "padding": 6, "symbolType": "circle", "symbolSize": 85, "symbolStrokeColor": "#222", "symbolStrokeWidth": 0.8, "symbolOpacity": 1, "labelFontSize": 10.5, "labelOffset": 5, "columnPadding": 1}}
                  }
                }
              ]
            }]
          }
        ]
      }
    ]
  },
  {
    "spacing": 32,
    "resolve": {"scale": {"x": "independent", "y": "independent", "fill": "independent"}},
    "hconcat": [
    {
      "spacing": -7,
      "resolve": {"scale": {"x": "independent", "y": "independent"}},
      "hconcat": [
        {"width": 1, "height": 1, "title": {"text": "D", "anchor": "start", "frame": "group", "fontSize": 10, "fontWeight": "bold", "offset": -10}, "data": {"values": [{}]}, "mark": {"type": "point", "opacity": 0, "size": 1}, "encoding": {}},
        {
          "spacing": 0,
          "resolve": {"scale": {"x": "independent", "y": "independent"}},
          "vconcat": [
            {"width": 1, "height": 5, "data": {"values": [{}]}, "mark": {"type": "point", "opacity": 0, "size": 1}, "encoding": {}},
            {
              "width": 215, "height": 214,
              "view": {"stroke": "black", "strokeWidth": 1},
              "title": {"text": ["C57-MSC vs BALB-MSC", "Membrane Proteins"], "fontSize": 13, "lineHeight": 15, "offset": 6.5},
              "layer": [
                {
                  "data": {"values": [
{"x":-0.15,"y":0.05},{"x":0,"y":0.05},{"x":0.15,"y":0.05},
{"x":-0.3,"y":0.2},{"x":-0.1,"y":0.2},{"x":0.1,"y":0.2},{"x":0.3,"y":0.2},
{"x":-0.45,"y":0.35},{"x":-0.2,"y":0.35},{"x":0,"y":0.35},{"x":0.2,"y":0.35},{"x":0.4,"y":0.35},
{"x":-0.6,"y":0.5},{"x":-0.35,"y":0.5},{"x":-0.1,"y":0.5},{"x":0.15,"y":0.5},{"x":0.4,"y":0.5},{"x":0.6,"y":0.5},
{"x":-0.75,"y":0.65},{"x":-0.5,"y":0.65},{"x":-0.25,"y":0.65},{"x":0,"y":0.65},{"x":0.25,"y":0.65},{"x":0.5,"y":0.65},{"x":0.7,"y":0.65},
{"x":-0.9,"y":0.8},{"x":-0.6,"y":0.8},{"x":-0.3,"y":0.8},{"x":0,"y":0.8},{"x":0.3,"y":0.8},{"x":0.6,"y":0.8},{"x":0.85,"y":0.8},
{"x":-1.0,"y":0.95},{"x":-0.7,"y":0.95},{"x":-0.4,"y":0.95},{"x":-0.1,"y":0.95},{"x":0.2,"y":0.95},{"x":0.5,"y":0.95},{"x":0.9,"y":0.95},
{"x":-1.1,"y":1.1},{"x":-0.8,"y":1.1},{"x":-0.5,"y":1.1},{"x":-0.2,"y":1.1},{"x":0.1,"y":1.1},{"x":0.4,"y":1.1},{"x":0.7,"y":1.1},{"x":1.0,"y":1.1},
{"x":-1.2,"y":1.25},{"x":-0.9,"y":1.25},{"x":-0.6,"y":1.25},{"x":-0.3,"y":1.25},{"x":0.25,"y":1.25},{"x":0.55,"y":1.25},{"x":0.85,"y":1.25},{"x":1.1,"y":1.25},
{"x":-1.3,"y":1.4},{"x":-1.0,"y":1.4},{"x":-0.7,"y":1.4},{"x":-0.4,"y":1.4},{"x":0.3,"y":1.4},{"x":0.6,"y":1.4},{"x":0.9,"y":1.4},{"x":1.2,"y":1.4},
{"x":-1.4,"y":1.55},{"x":-1.1,"y":1.55},{"x":-0.8,"y":1.55},{"x":-0.5,"y":1.55},{"x":0.35,"y":1.55},{"x":0.65,"y":1.55},{"x":0.95,"y":1.55},{"x":1.25,"y":1.55},
{"x":-1.45,"y":1.7},{"x":-1.15,"y":1.7},{"x":-0.85,"y":1.7},{"x":-0.55,"y":1.7},{"x":0.4,"y":1.7},{"x":0.7,"y":1.7},{"x":1.0,"y":1.7},{"x":1.3,"y":1.7},
{"x":-1.5,"y":1.85},{"x":-1.2,"y":1.85},{"x":-0.9,"y":1.85},{"x":-0.6,"y":1.85},{"x":0.45,"y":1.85},{"x":0.75,"y":1.85},{"x":1.05,"y":1.85},{"x":1.35,"y":1.85},
{"x":-1.6,"y":2.0},{"x":-1.3,"y":2.0},{"x":-1.0,"y":2.0},{"x":-0.65,"y":2.0},{"x":0.5,"y":2.0},{"x":0.8,"y":2.0},{"x":1.1,"y":2.0},{"x":1.4,"y":2.0},
{"x":-1.65,"y":2.15},{"x":-1.35,"y":2.15},{"x":-1.05,"y":2.15},{"x":-0.7,"y":2.15},{"x":0.5,"y":2.15},{"x":0.85,"y":2.15},{"x":1.15,"y":2.15},{"x":1.45,"y":2.15},
{"x":-1.7,"y":2.3},{"x":-1.4,"y":2.3},{"x":-1.1,"y":2.3},{"x":-0.75,"y":2.3},{"x":0.55,"y":2.3},{"x":0.9,"y":2.3},{"x":1.2,"y":2.3},{"x":1.5,"y":2.3},
{"x":-1.75,"y":2.45},{"x":-1.45,"y":2.45},{"x":-1.15,"y":2.45},{"x":-0.8,"y":2.45},{"x":0.6,"y":2.45},{"x":0.95,"y":2.45},{"x":1.25,"y":2.45},{"x":1.55,"y":2.45},
{"x":-1.8,"y":2.6},{"x":-1.5,"y":2.6},{"x":-1.2,"y":2.6},{"x":-0.85,"y":2.6},{"x":0.6,"y":2.6},{"x":0.95,"y":2.6},{"x":1.3,"y":2.6},{"x":1.6,"y":2.6},
{"x":-1.85,"y":2.75},{"x":-1.55,"y":2.75},{"x":-1.25,"y":2.75},{"x":-0.9,"y":2.75},{"x":0.65,"y":2.75},{"x":1.0,"y":2.75},{"x":1.35,"y":2.75},{"x":1.65,"y":2.75},
{"x":-1.9,"y":2.9},{"x":-1.6,"y":2.9},{"x":-1.3,"y":2.9},{"x":-0.95,"y":2.9},{"x":0.7,"y":2.9},{"x":1.05,"y":2.9},{"x":1.4,"y":2.9},{"x":1.7,"y":2.9},
{"x":-1.95,"y":3.05},{"x":-1.6,"y":3.05},{"x":-1.3,"y":3.05},{"x":-1.0,"y":3.05},{"x":0.75,"y":3.05},{"x":1.1,"y":3.05},{"x":1.45,"y":3.05},{"x":1.75,"y":3.05},
{"x":-2.0,"y":3.2},{"x":-1.65,"y":3.2},{"x":-1.35,"y":3.2},{"x":-1.0,"y":3.2},{"x":0.8,"y":3.2},{"x":1.15,"y":3.2},{"x":1.5,"y":3.2},{"x":1.8,"y":3.2},
{"x":-2.05,"y":3.35},{"x":-1.7,"y":3.35},{"x":-1.4,"y":3.35},{"x":-1.05,"y":3.35},{"x":0.85,"y":3.35},{"x":1.2,"y":3.35},{"x":1.55,"y":3.35},{"x":1.85,"y":3.35},
{"x":-2.1,"y":3.5},{"x":-1.75,"y":3.5},{"x":-1.45,"y":3.5},{"x":-1.1,"y":3.5},{"x":0.9,"y":3.5},{"x":1.25,"y":3.5},{"x":1.6,"y":3.5},{"x":1.9,"y":3.5},
{"x":-2.1,"y":3.65},{"x":-1.8,"y":3.65},{"x":-1.5,"y":3.65},{"x":-1.15,"y":3.65},{"x":0.95,"y":3.65},{"x":1.3,"y":3.65},{"x":1.65,"y":3.65},{"x":1.95,"y":3.65},
{"x":-2.15,"y":3.8},{"x":-1.85,"y":3.8},{"x":-1.55,"y":3.8},{"x":-1.2,"y":3.8},{"x":1.0,"y":3.8},{"x":1.35,"y":3.8},{"x":1.7,"y":3.8},{"x":2.0,"y":3.8},
{"x":-2.2,"y":3.95},{"x":-1.9,"y":3.95},{"x":-1.6,"y":3.95},{"x":-1.25,"y":3.95},{"x":1.05,"y":3.95},{"x":1.4,"y":3.95},{"x":1.75,"y":3.95},{"x":2.0,"y":3.95},
{"x":-2.5,"y":3.9},{"x":-2.8,"y":3.7},{"x":-3.0,"y":3.95},{"x":-2.4,"y":3.55},{"x":-3.6,"y":3.9},{"x":-2.6,"y":3.2},{"x":-3.2,"y":3.4},{"x":-2.3,"y":2.9},{"x":-2.7,"y":2.6},{"x":-3.2,"y":2.56},{"x":-2.1,"y":2.5},{"x":-2.4,"y":2.2},{"x":-3.75,"y":3.3},{"x":-4.3,"y":3.7},{"x":-4.7,"y":3.95},{"x":-4.9,"y":2.24},{"x":-3.0,"y":1.83},{"x":-2.0,"y":1.67},{"x":-2.2,"y":2.0},{"x":-1.7,"y":1.1},{"x":-1.6,"y":0.8},{"x":-2.5,"y":1.4},{"x":-3.5,"y":2.9},{"x":-4.2,"y":3.1},{"x":-2.9,"y":3.0},{"x":-1.9,"y":1.3},
{"x":2.3,"y":3.9},{"x":2.5,"y":3.8},{"x":2.9,"y":3.6},{"x":3.9,"y":3.6},{"x":2.6,"y":3.2},{"x":3.2,"y":3.3},{"x":2.2,"y":3.0},{"x":2.8,"y":2.8},{"x":4.1,"y":2.96},{"x":5.0,"y":2.8},{"x":4.4,"y":2.65},{"x":2.4,"y":2.5},{"x":3.5,"y":2.3},{"x":3.4,"y":2.0},{"x":2.0,"y":2.3},{"x":3.0,"y":2.0},{"x":3.1,"y":1.67},{"x":2.2,"y":1.8},{"x":2.35,"y":1.18},{"x":2.54,"y":1.0},{"x":1.97,"y":0.69},{"x":2.7,"y":1.2},{"x":1.6,"y":0.5},{"x":10.1,"y":3.8},{"x":3.6,"y":3.95},{"x":4.3,"y":3.4},{"x":1.8,"y":1.5}
                  ]},
                  "mark": {"type": "point", "filled": false, "stroke": "#8f8f8f", "strokeWidth": 0.7, "size": 16, "opacity": 1},
                  "encoding": {
                    "x": {"field": "x", "type": "quantitative", "scale": {"domain": [-12.3, 12.3], "nice": false, "zero": false},
                          "axis": {"values": [-10, -5, 0, 5, 10], "title": "Log₂ Fold Change", "titleFontSize": 12, "labelFontSize": 12, "tickSize": 5, "titlePadding": 12, "domain": false, "labelColor": "#111"}},
                    "y": {"field": "y", "type": "quantitative", "scale": {"domain": [-0.45, 10.05], "nice": false, "zero": false},
                          "axis": {"values": [0, 2.5, 5, 7.5, 10], "format": ".1~f", "title": "P value (-Log₁₀)", "titleFontSize": 12, "labelFontSize": 12, "tickSize": 5, "titlePadding": 14, "domain": false, "labelColor": "#111"}}
                  }
                },
                {
                  "data": {"values": [{"v": -1.6}, {"v": 1.45}]},
                  "mark": {"type": "rule", "color": "#666", "strokeDash": [2, 2], "strokeWidth": 0.7},
                  "encoding": {"x": {"field": "v", "type": "quantitative"}}
                },
                {
                  "data": {"values": [{"v": 4}]},
                  "mark": {"type": "rule", "color": "#666", "strokeDash": [2, 2], "strokeWidth": 0.7},
                  "encoding": {"y": {"field": "v", "type": "quantitative"}}
                },
                {
                  "data": {"values": [
{"x":-6.42,"y":6.7},{"x":-4.78,"y":6.44},{"x":-3.49,"y":6.27},{"x":-3.37,"y":6.05},{"x":-3.45,"y":5.67},{"x":-2.69,"y":5.59},{"x":-5.39,"y":5.62},{"x":-5.73,"y":5.38},{"x":-4.4,"y":5.38},{"x":-2.49,"y":5.29},{"x":-2.38,"y":5.21},{"x":-2.04,"y":4.72},{"x":-3.26,"y":4.85},{"x":-3.83,"y":4.66},{"x":-5.3,"y":4.45},{"x":-4.97,"y":4.44},{"x":-4.51,"y":4.48},{"x":-3.37,"y":4.48},{"x":-2.88,"y":4.43},{"x":-2.23,"y":4.48},{"x":-2.69,"y":4.28},{"x":-3.06,"y":4.22},{"x":-3.45,"y":4.04},{"x":-1.85,"y":4.23},{"x":-1.66,"y":4.12},{"x":-2.46,"y":4.08},{"x":-2.04,"y":4.33},
{"x":6.61,"y":9.59},{"x":6.08,"y":7.84},{"x":5.01,"y":7.6},{"x":5.77,"y":7.22},{"x":6.95,"y":7.14},{"x":3.91,"y":6.9},{"x":6.27,"y":6.75},{"x":3.86,"y":6.49},{"x":4.93,"y":6.41},{"x":5.16,"y":6.37},{"x":3.98,"y":6.01},{"x":3.34,"y":5.87},{"x":4.18,"y":5.77},{"x":2.91,"y":5.72},{"x":2.95,"y":5.59},{"x":5.77,"y":5.64},{"x":5.58,"y":5.41},{"x":3.42,"y":5.59},{"x":3.06,"y":5.39},{"x":2.53,"y":5.38},{"x":2.04,"y":5.1},{"x":1.9,"y":4.93},{"x":2.67,"y":5.1},{"x":3.45,"y":5.1},{"x":4.21,"y":5.15},{"x":4.48,"y":5.13},{"x":3.72,"y":4.9},{"x":4.1,"y":4.82},{"x":3.42,"y":4.7},{"x":3.0,"y":4.78},{"x":2.16,"y":4.75},{"x":1.75,"y":4.65},{"x":2.53,"y":4.59},{"x":3.86,"y":4.54},{"x":4.37,"y":4.43},{"x":4.48,"y":4.3},{"x":2.72,"y":4.41},{"x":3.15,"y":4.33},{"x":1.58,"y":4.3},{"x":1.96,"y":4.25},{"x":2.4,"y":4.25},{"x":1.65,"y":4.14},{"x":2.08,"y":4.1},{"x":2.57,"y":4.08},{"x":1.9,"y":4.46},{"x":3.64,"y":4.62},{"x":4.02,"y":5.03},{"x":4.63,"y":4.28},{"x":3.94,"y":5.26}
                  ]},
                  "mark": {"type": "point", "filled": true, "color": "#6b55f3", "size": 10, "opacity": 1},
                  "encoding": {"x": {"field": "x", "type": "quantitative"}, "y": {"field": "y", "type": "quantitative"}}
                },
                {
                  "data": {"values": [
                    {"gene": "Ptgs2", "lx": -8.9, "ly": 7.75, "px": -6.42, "py": 6.7},
                    {"gene": "Ptgs1", "lx": -3.6, "ly": 7.06, "px": -3.45, "py": 5.67},
                    {"gene": "Mcam", "lx": -9.4, "ly": 6.29, "px": -5.73, "py": 5.38},
                    {"gene": "Cd14", "lx": -9.43, "ly": 4.89, "px": -5.3, "py": 4.45},
                    {"gene": "Nov", "lx": 4.32, "ly": 8.5, "px": 6.08, "py": 7.84},
                    {"gene": "Ephb2", "lx": 9.47, "ly": 9.2, "px": 6.61, "py": 9.59},
                    {"gene": "Mme", "lx": 9.89, "ly": 7.53, "px": 6.95, "py": 7.14},
                    {"gene": "Itga1", "lx": 9.77, "ly": 6.05, "px": 5.77, "py": 5.64}
                  ]},
                  "layer": [
                    {
                      "mark": {"type": "rule", "color": "#333", "strokeWidth": 0.7},
                      "encoding": {"x": {"field": "lx", "type": "quantitative"}, "y": {"field": "ly", "type": "quantitative"}, "x2": {"field": "px"}, "y2": {"field": "py"}}
                    },
                    {
                      "mark": {"type": "point", "shape": "M-1,-0.36L1,-0.36L1,0.36L-1,0.36Z", "size": 961, "filled": true, "fill": "white", "stroke": "#333", "strokeWidth": 0.8, "opacity": 1},
                      "encoding": {"x": {"field": "lx", "type": "quantitative"}, "y": {"field": "ly", "type": "quantitative"}}
                    },
                    {
                      "mark": {"type": "text", "fontSize": 9.5, "color": "black", "baseline": "middle"},
                      "encoding": {"x": {"field": "lx", "type": "quantitative"}, "y": {"field": "ly", "type": "quantitative"}, "text": {"field": "gene"}}
                    }
                  ]
                },
                {
                  "data": {"values": [{"t": "C57-MSC\nenriched", "x": -11.8, "y": 0.56}]},
                  "mark": {"type": "text", "fontSize": 12, "lineBreak": "\n", "lineHeight": 15, "align": "left", "baseline": "middle", "color": "black"},
                  "encoding": {"x": {"field": "x", "type": "quantitative"}, "y": {"field": "y", "type": "quantitative"}, "text": {"field": "t"}}
                },
                {
                  "data": {"values": [{"t": "BALB-MSC\nenriched", "x": 11.57, "y": 0.56}]},
                  "mark": {"type": "text", "fontSize": 12, "lineBreak": "\n", "lineHeight": 15, "align": "right", "baseline": "middle", "color": "black"},
                  "encoding": {"x": {"field": "x", "type": "quantitative"}, "y": {"field": "y", "type": "quantitative"}, "text": {"field": "t"}}
                }
              ]
            }
          ]
        }
      ]
    },
    {
      "spacing": 0,
      "resolve": {"scale": {"x": "independent", "y": "independent", "fill": "independent"}},
      "vconcat": [
        {"width": 1, "height": 41, "title": {"text": "E", "anchor": "start", "frame": "group", "fontSize": 10, "fontWeight": "bold", "offset": -12, "dx": -33}, "data": {"values": [{}]}, "mark": {"type": "point", "opacity": 0, "size": 1}, "encoding": {}},
        {
          "width": 150, "height": 149,
          "title": {"text": "CD14 Protein Expression", "fontSize": 13, "offset": 17.5},
          "data": {"values": [
            {"g": "C57-MSC", "m": 3.35, "lo": 2.87, "hi": 3.96},
            {"g": "BALB-MSC", "m": -1.38, "lo": -2.98, "hi": 0.12},
            {"g": "MDF", "m": -1.17, "lo": -2.33, "hi": -0.08},
            {"g": "MEF", "m": -1.6, "lo": -1.85, "hi": -1.43}
          ]},
          "layer": [
            {
              "mark": {"type": "rule", "color": "#8a8a8a", "strokeWidth": 1.5},
              "encoding": {"y": {"datum": 0, "type": "quantitative"}}
            },
            {
              "mark": {"type": "bar", "stroke": "black", "strokeWidth": 2},
              "encoding": {
                "x": {"field": "g", "type": "nominal", "sort": ["C57-MSC", "BALB-MSC", "MDF", "MEF"],
                      "scale": {"domain": ["C57-MSC", "BALB-MSC", "MDF", "MEF"], "paddingInner": 0.33, "paddingOuter": 0.34},
                      "axis": {"title": null, "labelAngle": -45, "labelFontWeight": "bold", "labelFontSize": 9, "labelColor": "black", "domainColor": "#666", "domainWidth": 1.5, "tickWidth": 1.5, "tickSize": 5, "labelPadding": 2}},
                "y": {"field": "m", "type": "quantitative", "scale": {"domain": [-4, 6], "nice": false, "zero": false},
                      "axis": {"values": [-4, -2, 0, 2, 4, 6], "title": "Log₂ Centered Intensity", "titleFontWeight": "bold", "titleFontSize": 9.5, "labelFontWeight": "bold", "labelFontSize": 9, "labelColor": "black", "domainWidth": 1.5, "tickWidth": 1.5, "tickSize": 4, "titlePadding": 5}},
                "y2": {"datum": 0},
                "fill": {"field": "g", "type": "nominal", "scale": {"domain": ["C57-MSC", "BALB-MSC", "MDF", "MEF"], "range": ["#4a67f7", "#cc1477", "#3b6b14", "#e8c468"]}, "legend": null}
              }
            },
            {
              "mark": {"type": "rule", "color": "black", "strokeWidth": 1.3},
              "encoding": {"x": {"field": "g", "type": "nominal"}, "y": {"field": "lo", "type": "quantitative"}, "y2": {"field": "hi"}}
            },
            {
              "mark": {"type": "tick", "color": "black", "thickness": 1.3, "size": 13, "opacity": 1},
              "encoding": {"x": {"field": "g", "type": "nominal"}, "y": {"field": "lo", "type": "quantitative"}}
            },
            {
              "mark": {"type": "tick", "color": "black", "thickness": 1.3, "size": 13, "opacity": 1},
              "encoding": {"x": {"field": "g", "type": "nominal"}, "y": {"field": "hi", "type": "quantitative"}}
            }
          ]
        }
      ]
    }]
  }]
}
]
}
